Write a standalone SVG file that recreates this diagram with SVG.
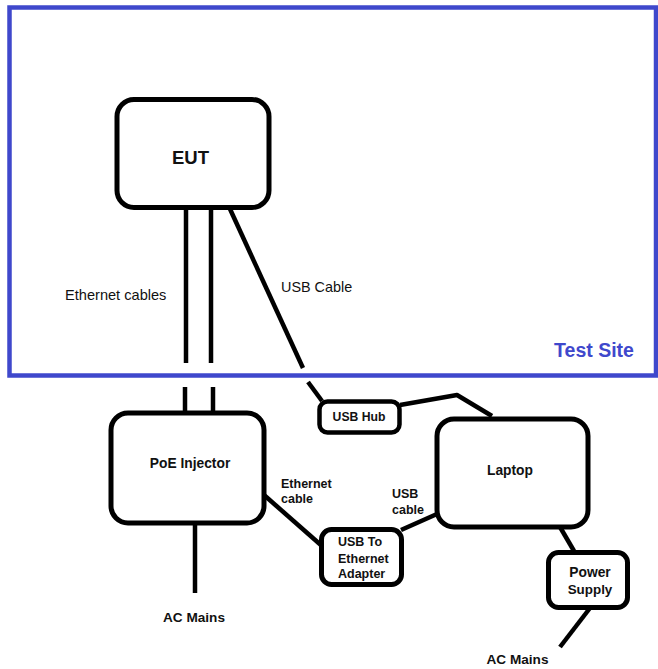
<svg xmlns="http://www.w3.org/2000/svg" width="658" height="669" viewBox="0 0 658 669">
<style>
.box{fill:#fff;stroke:#000;stroke-width:5}
.sbox{fill:#fff;stroke:#000;stroke-width:4.5}
.ln{fill:none;stroke:#000;stroke-width:4.5;stroke-linejoin:round}
.t{font-family:"Liberation Sans",Arial,sans-serif;fill:#111;font-weight:bold;text-anchor:middle}
.lab{font-family:"Liberation Sans",Arial,sans-serif;fill:#111}
</style>
<rect x="0" y="0" width="658" height="669" fill="#fff"/>
<g id="test-site">
<rect x="9.5" y="7.5" width="646.5" height="368" fill="none" stroke="#3F48CC" stroke-width="4.5"/>
<text x="594" y="357" class="t" style="fill:#3F48CC;font-size:19.5px">Test Site</text>
</g>
<g id="connectors">
<line class="ln" x1="186" y1="209" x2="186" y2="363"/>
<line class="ln" x1="211" y1="209" x2="211" y2="363"/>
<line class="ln" x1="230" y1="209" x2="303" y2="368"/>
<line class="ln" x1="185" y1="387" x2="185" y2="412"/>
<line class="ln" x1="213" y1="387" x2="213" y2="412"/>
<polyline class="ln" points="308,382 322,401"/>
<polyline class="ln" points="400,405 457,395 492,416"/>
<line class="ln" x1="264" y1="495" x2="322" y2="546"/>
<line class="ln" x1="401" y1="530" x2="437" y2="514"/>
<line class="ln" x1="560" y1="527" x2="574" y2="551"/>
<line class="ln" x1="195" y1="523" x2="195" y2="593"/>
<line class="ln" x1="590" y1="608" x2="560" y2="647"/>
<text class="lab" x="65" y="300" style="font-size:14.6px">Ethernet cables</text>
<text class="lab" x="281" y="292" style="font-size:14.4px">USB Cable</text>
<text class="lab" x="281" y="488" style="font-size:12.5px;font-weight:bold">Ethernet</text>
<text class="lab" x="281" y="503" style="font-size:12.5px;font-weight:bold">cable</text>
<text class="lab" x="392" y="498" style="font-size:12.5px;font-weight:bold">USB</text>
<text class="lab" x="392" y="514" style="font-size:12.5px;font-weight:bold">cable</text>
</g>
<g id="eut">
<rect class="box" x="117" y="99.5" width="152" height="108" rx="17"/>
<text class="t" x="190.5" y="164" style="font-size:18.5px">EUT</text>
</g>
<g id="poe-injector">
<rect class="box" x="111" y="413" width="153" height="110" rx="17"/>
<text class="t" x="190" y="468" style="font-size:13.8px">PoE Injector</text>
</g>
<g id="ac-mains-1">
<text class="t" x="194" y="622" style="font-size:13.6px">AC Mains</text>
</g>
<g id="usb-hub">
<rect class="sbox" x="319.5" y="401.5" width="80" height="31" rx="8"/>
<text class="t" x="359" y="421" style="font-size:12.2px">USB Hub</text>
</g>
<g id="laptop">
<rect class="box" x="437" y="419" width="151" height="108" rx="17"/>
<text class="t" x="510" y="475" style="font-size:13.8px">Laptop</text>
</g>
<g id="usb-ethernet-adapter">
<rect class="box" x="321.5" y="529.5" width="80" height="55" rx="10"/>
<text class="lab" x="338" y="546" style="font-size:12.5px;font-weight:bold">USB To</text>
<text class="lab" x="338" y="563" style="font-size:12.5px;font-weight:bold">Ethernet</text>
<text class="lab" x="338" y="578" style="font-size:12.5px;font-weight:bold">Adapter</text>
</g>
<g id="power-supply">
<rect class="box" x="548.5" y="552.5" width="79" height="55" rx="10"/>
<text class="t" x="590" y="577" style="font-size:13.8px">Power</text>
<text class="t" x="590" y="594" style="font-size:13.4px">Supply</text>
</g>
<g id="ac-mains-2">
<text class="t" x="517.5" y="664" style="font-size:13.6px">AC Mains</text>
</g>
</svg>
